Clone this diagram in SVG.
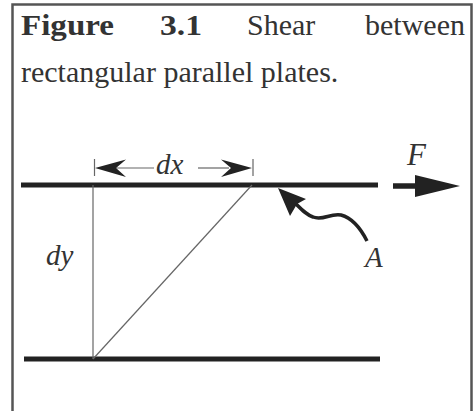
<svg xmlns="http://www.w3.org/2000/svg" width="476" height="411" viewBox="0 0 476 411">
<style>
.cap{font-family:"Liberation Serif","Times New Roman",serif;font-size:30px;fill:#333}
.b{font-weight:bold}
.lab{font-family:"Liberation Serif","Times New Roman",serif;font-style:italic;fill:#333}
.plate{stroke:#222;stroke-width:5;fill:none}
.thin{stroke:#666;stroke-width:1.2;fill:none}
.ah{fill:#222;stroke:none}
</style>
<rect x="0" y="0" width="476" height="411" fill="#fff"/>
<rect id="frame" x="12.5" y="4.5" width="459" height="420" fill="none" stroke="#555" stroke-width="2.5"/>
<g id="caption">
<text class="cap b" x="21" y="35" textLength="93" lengthAdjust="spacingAndGlyphs">Figure</text>
<text class="cap b" x="160" y="35" textLength="42" lengthAdjust="spacingAndGlyphs">3.1</text>
<text class="cap" x="247" y="35">Shear</text>
<text class="cap" x="465" y="35" text-anchor="end">between</text>
<text class="cap" x="21" y="82">rectangular parallel plates.</text>
</g>
<g id="top-plate"><line class="plate" x1="21" y1="185" x2="378" y2="185"/></g>
<g id="bottom-plate"><line class="plate" x1="24" y1="359" x2="380" y2="359"/></g>
<g id="connectors">
<line class="thin" x1="93" y1="185" x2="93" y2="359"/>
<line class="thin" x1="93" y1="359" x2="252" y2="185"/>
<line class="thin" x1="94.5" y1="159" x2="94.5" y2="176"/>
<line class="thin" x1="253" y1="159" x2="253" y2="176"/>
<line class="thin" x1="115" y1="168" x2="154" y2="168"/>
<line class="thin" x1="198" y1="168" x2="229" y2="168"/>
<path class="ah" d="M95,168 L126,159.5 L116,168 L126,177 Z"/>
<path class="ah" d="M252,168 L221,159.5 L231,168 L221,177 Z"/>
<line stroke="#222" stroke-width="5.5" x1="393" y1="186" x2="418" y2="186"/>
<path class="ah" d="M460,186 L415,175 L415,197 Z"/>
<path d="M367,241 C361,229 352,218 341,215 C330,213 323,221 313,217 C307,215 303,211 296,204" fill="none" stroke="#222" stroke-width="3.5"/>
<path class="ah" d="M278,188 L306,199 L297,204 L290,216 Z"/>
</g>
<g id="labels">
<text class="lab" x="156" y="174" font-size="29">dx</text>
<text class="lab" x="46" y="265" font-size="29">dy</text>
<text class="lab" x="407" y="165" font-size="31">F</text>
<text class="lab" x="365" y="267" font-size="29">A</text>
</g>
</svg>
